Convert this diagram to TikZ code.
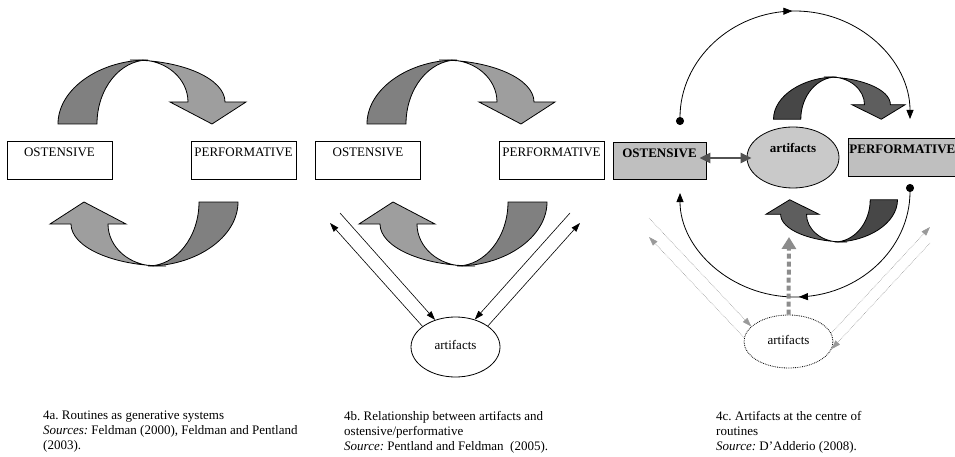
\documentclass[tikz,border=0pt]{standalone}
\usepackage{fontspec}
\setmainfont{Liberation Serif}
\usetikzlibrary{arrows.meta,shapes.geometric,decorations.markings,positioning}

\newcommand{\figfont}{\fontsize{13}{15}\selectfont\frenchspacing}

\tikzset{
  back colour/.store in=\twistback,
  front colour/.store in=\twistfront,
  back colour=black!50, front colour=black!38,
  pics/twist/.style={code={
    \filldraw[fill=\twistback,line width=0.8pt] (-85,64) .. controls (-85,28.7) and (-43,0) .. (5,0)
      .. controls (-23,0) and (-46,28.7) .. (-46,64) -- cycle;
    \filldraw[fill=\twistfront,line width=0.8pt] (-13,0) .. controls (39.5,0) and (82,18.8) .. (82,42)
      -- (103,42) -- (69,64) -- (27,42) -- (45,42) .. controls (45,18.8) and (23.5,0) .. (-3,0) -- cycle;
  }},
  phase/.style={draw,rectangle,line width=0.8pt,minimum width=105pt,inner xsep=1pt,inner ysep=3pt,
    text height=13pt,text depth=19pt},
  blob/.style={draw,ellipse,line width=0.8pt,inner sep=1pt},
  link/.style={line width=0.6pt,-{Triangle[length=9pt,width=6pt]}},
  faint/.style={draw=black!40,line width=0.6pt,densely dotted,-{Triangle[length=9pt,width=6pt]}},
  feed/.style={draw=black!45,line width=4pt,dash pattern=on 5pt off 3pt,-{Triangle[length=12pt,width=14pt]}},
  dblarr/.style={draw=black!68,line width=2.5pt,{Triangle[length=11pt,width=10pt]}-{Triangle[length=11pt,width=10pt]}},
  midarrow/.style={postaction={decorate},decoration={markings,
    mark=at position 0.5 with {\arrow{Triangle[length=9pt,width=7pt]}}}},
  loop/.style={line width=0.8pt,{Circle[length=8pt]}-{Triangle[length=9pt,width=7pt]},midarrow},
  caption/.style={anchor=north west,align=left,inner sep=0pt}
}

\begin{document}
\begin{tikzpicture}[x=1pt,y=-1pt,font=\figfont]
\useasboundingbox (0,0) rectangle (955,457);

% 4a
\pic at (143,60) {twist};
\pic[rotate=180] at (153,266) {twist};
\node[phase] (ostA) at (59.5,160) {OSTENSIVE};
\node[phase] (perfA) at (243.5,160) {PERFORMATIVE};

% 4b
\pic at (452,60) {twist};
\pic[rotate=180] at (462,266) {twist};
\node[phase] (ostB) at (368,160) {OSTENSIVE};
\node[phase] (perfB) at (551.5,160) {PERFORMATIVE};
\node[blob,minimum width=89pt,minimum height=60pt,text depth=4pt] (artB) at (455.5,347) {artifacts};
\coordinate (bl1) at (340,213);
\coordinate (bl2) at (330,223);
\coordinate (br1) at (570,213);
\coordinate (br2) at (580,223);
\draw[link] (bl1) -- (artB.127);
\draw[link] (artB.148) -- (bl2);
\draw[link] (br1) -- (artB.55);
\draw[link] (artB.33) -- (br2);

% 4c
\pic[back colour=black!72,front colour=black!63,xscale=0.7,yscale=0.66] at (833,77) {twist};
\pic[back colour=black!72,front colour=black!63,xscale=0.7,yscale=0.66,rotate=180] at (838,242) {twist};
\node[phase,fill=black!25,minimum width=93pt,inner ysep=2.5pt,font=\figfont\bfseries] (ostC) at (659.5,160.5) {OSTENSIVE};
\node[phase,fill=black!25,minimum width=0pt,anchor=west,font=\figfont\bfseries] (perfC) at (848,157) {PERFORMATIVE};
\node[blob,fill=black!21,minimum width=92pt,minimum height=61pt,text depth=20pt,font=\figfont\bfseries] (artC) at (793,157.5) {artifacts};
\draw[dblarr,shorten <=-7pt,shorten >=-5pt] ([yshift=2.5pt]ostC.east) -- ([yshift=2.5pt]ostC.east -| artC.west);

\coordinate (ostUp) at (680,125);
\coordinate (perfUp) at (910,119);
\coordinate (perfDown) at (910,184);
\coordinate (ostDown) at (680,193);
\draw[loop] (ostUp) .. controls (680,60) and (731.5,11) .. (795,11)
  .. controls (858.5,11) and (910,60) .. (perfUp);
\draw[loop] (perfDown) .. controls (910,249) and (858.5,297) .. (795,297)
  .. controls (731.5,297) and (680,249) .. (ostDown);

\node[blob,densely dotted,minimum width=89pt,minimum height=53pt,text depth=4pt] (artD) at (788.5,341.5) {artifacts};
\coordinate (cl1) at (649,218);
\coordinate (cl2) at (649,237);
\coordinate (cr1) at (930,243);
\coordinate (cr2) at (930,227);
\coordinate (feedTip) at (789,237);
\draw[faint] (cl1) -- (artD.158);
\draw[faint] (artD.175) -- (cl2);
\draw[faint] (cr1) -- (artD.-10);
\draw[faint] (artD.11) -- (cr2);
\draw[feed] (artD.north) -- (feedTip);

% captions
\node[caption] (capA) at (43,411) {4a. Routines as generative systems\\\textit{Sources:} Feldman (2000), Feldman and Pentland\\(2003).};
\node[caption] (capB) at (344,411) {4b. Relationship between artifacts and\\ostensive/performative\\\textit{Source:} Pentland and Feldman\ \ (2005).};
\node[caption] (capC) at (716,411) {4c. Artifacts at the centre of\\routines\\\textit{Source:} D’Adderio (2008).};
\end{tikzpicture}
\end{document}
